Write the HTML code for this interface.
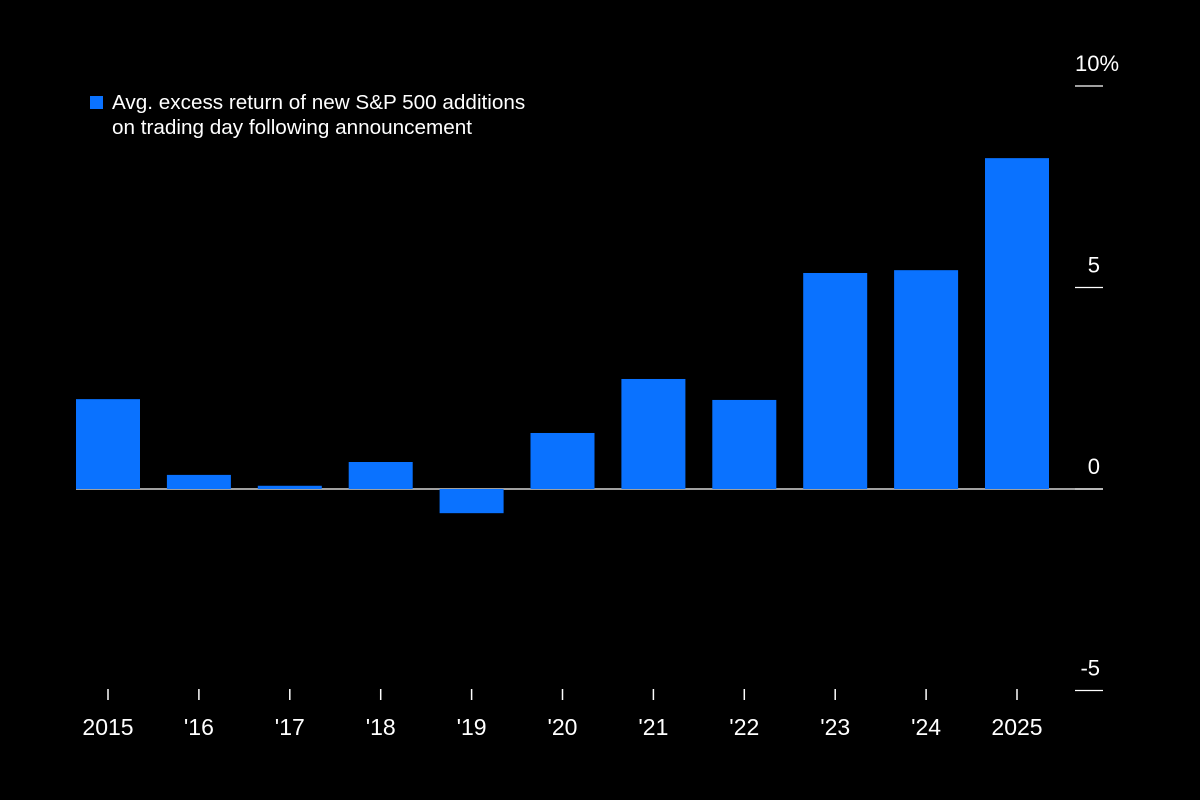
<!DOCTYPE html>
<html><head><meta charset="utf-8"><style>
html,body{margin:0;padding:0;background:#000;}
svg{display:block;font-family:"Liberation Sans",sans-serif;}
</style></head><body>
<svg id="chart" width="1200" height="800">
<rect width="1200" height="800" fill="#000"/>
<g>
<rect x="90" y="96" width="13" height="13" fill="#0a72ff"/>
<text x="112" y="109" fill="#fff" font-size="20.7">Avg. excess return of new S&amp;P 500 additions</text>
<text x="112" y="134" fill="#fff" font-size="20.7">on trading day following announcement</text>
</g>
<g id="yaxis"></g>
<g id="bars"></g>
<g id="xaxis"></g>
</svg>
<script>
const categories = ["2015","'16","'17","'18","'19","'20","'21","'22","'23","'24","2025"];
const values = [2.23,0.35,0.08,0.67,-0.6,1.39,2.73,2.21,5.36,5.43,8.21];
const yTicks = [10,5,0,-5];
const yTickLabels = ["10%","5","0","-5"];

const NS="http://www.w3.org/2000/svg";
const y = v => 489 - v*40.3;
const x = i => 108 + i*90.9;
const barW = 64;
function mk(tag, attrs, parent){const e=document.createElementNS(NS,tag);for(const k in attrs)e.setAttribute(k,attrs[k]);parent.appendChild(e);return e;}
const ya=document.getElementById('yaxis'), bg=document.getElementById('bars'), xa=document.getElementById('xaxis');
yTicks.forEach((t,i)=>{
  const l=mk('line',{x1:1075,x2:1103,y1:y(t),y2:y(t),stroke:'#fff','stroke-width':1.2},ya);
  
  
  const lab=yTickLabels[i];
  const tx=mk('text',{x:lab.endsWith('%')?1075:1100,y:y(t)-15,fill:'#fff','font-size':22,'text-anchor':lab.endsWith('%')?'start':'end'},ya);
  tx.textContent=lab;
  
  
});
values.forEach((v,i)=>{
  const r=mk('rect',{x:x(i)-barW/2,y:Math.min(y(v),y(0)),width:barW,height:Math.abs(y(v)-y(0)),fill:'#0a72ff'},bg);
  
  
});
const zl=mk('line',{x1:76,x2:1103,y1:y(0),y2:y(0),stroke:'#fff','stroke-width':1.2},ya);


categories.forEach((c,i)=>{
  const tk=mk('line',{x1:x(i),x2:x(i),y1:689,y2:700,stroke:'#fff','stroke-width':1.5},xa);
  
  
  const t=mk('text',{x:x(i),y:735,fill:'#fff','font-size':23,'text-anchor':'middle'},xa);
  t.textContent=c;
  
  
});
</script>
</body></html>
